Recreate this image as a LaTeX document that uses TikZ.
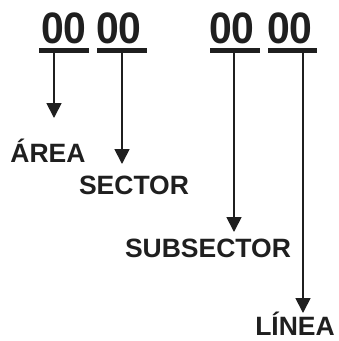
\documentclass[tikz,border=0pt]{standalone}
\usepackage{fontspec}
\setmainfont{Liberation Sans}
\usetikzlibrary{arrows.meta}
\definecolor{ink}{gray}{0.12}
\tikzset{
	digits/.style={font=\bfseries\fontsize{44}{48}\selectfont, text=ink, inner sep=0pt, anchor=base, xscale=0.93},
	field/.style={font=\bfseries\fontsize{26.5}{30}\selectfont, text=ink, inner sep=0pt, anchor=base},
	bar/.style={line width=5pt, draw=ink},
	pointer/.style={line width=1.8pt, draw=ink, -{Triangle[width=15pt,length=15pt]}}
}

\begin{document}
\begin{tikzpicture}[x=1pt,y=-1pt]
		\useasboundingbox (0,0) rectangle (339,341);

		% the four pairs of digits
		\node[digits] (d1) at ( 64,43) {00};
		\node[digits] (d2) at (119,43) {00};
		\node[digits] (d3) at (232,43) {00};
		\node[digits] (d4) at (290,43) {00};

		% underlines
		\draw[bar] ( 39,50.5) -- ( 89,50.5);
		\draw[bar] ( 97,50.5) -- (147,50.5);
		\draw[bar] (210,50.5) -- (260,50.5);
		\draw[bar] (268,50.5) -- (317,50.5);

		\coordinate (A) at ( 54,53);
		\coordinate (B) at (122,53);
		\coordinate (C) at (234,53);
		\coordinate (D) at (303,53);

		\coordinate (E) at ( 54,118);
		\coordinate (F) at (122,164);
		\coordinate (G) at (234,232);
		\coordinate (H) at (303,313);

		\draw[pointer] (A) -- (E);
		\draw[pointer] (B) -- (F);
		\draw[pointer] (C) -- (G);
		\draw[pointer] (D) -- (H);

		\node[field] (area)      at ( 48,162) {ÁREA};
		\node[field] (sector)    at (134,194) {SECTOR};
		\node[field] (subsector) at (208,257) {SUBSECTOR};
		\node[field] (linea)     at (295,335.5) {LÍNEA};

	\end{tikzpicture}
\end{document}
